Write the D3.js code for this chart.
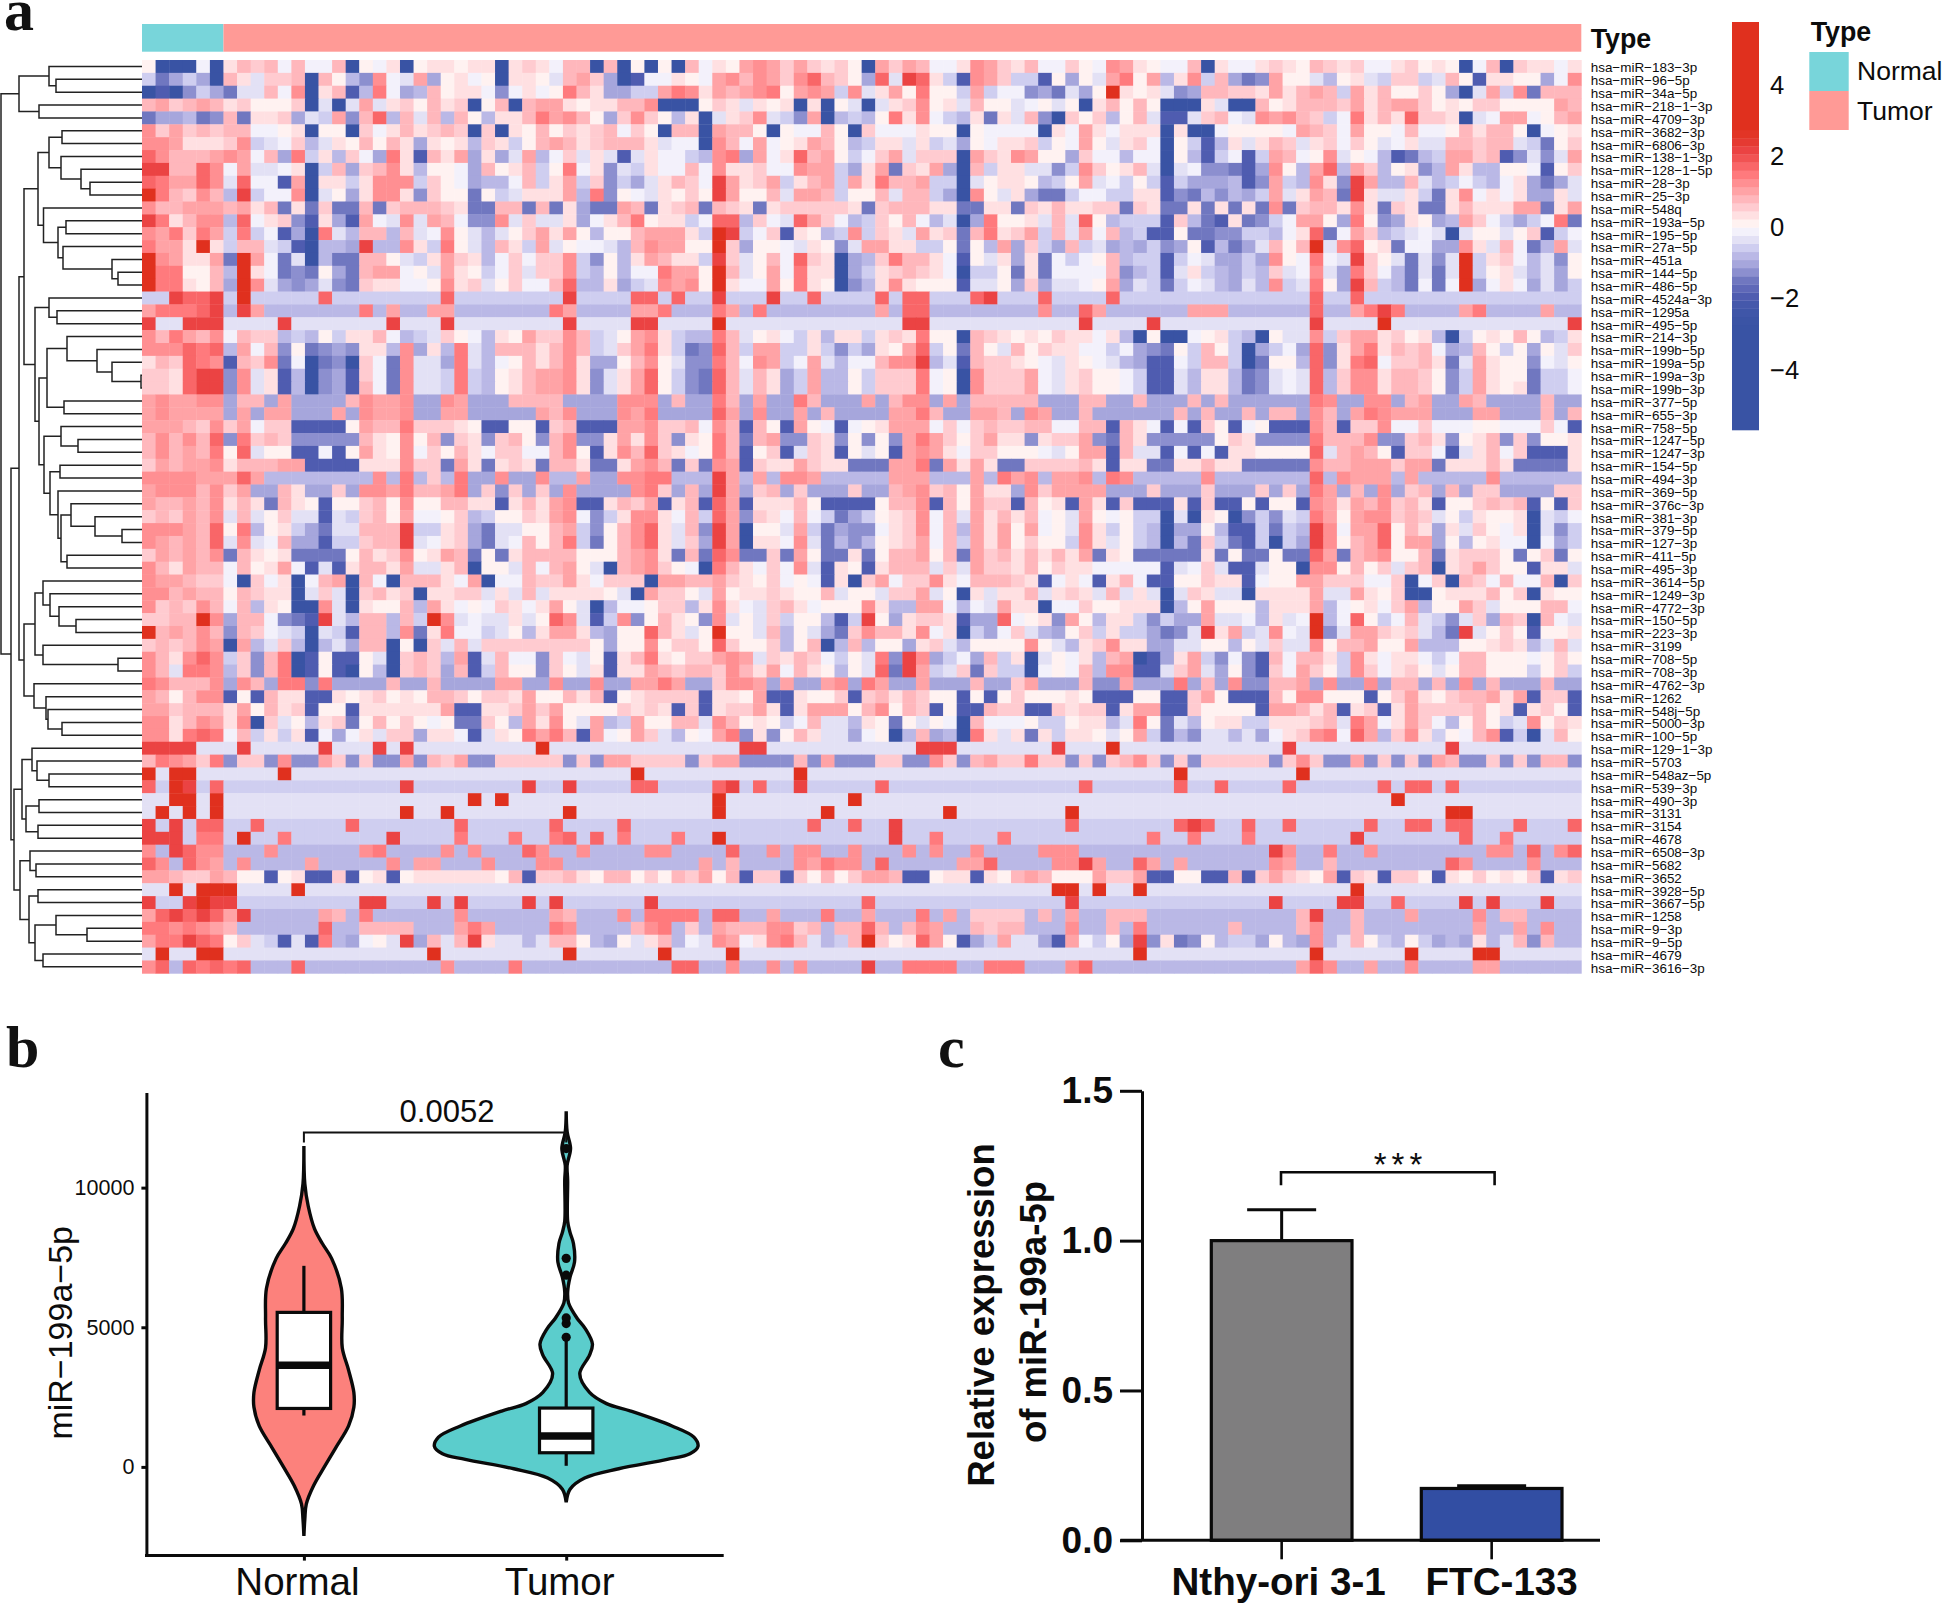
<!DOCTYPE html>
<html>
<head>
<meta charset="utf-8">
<script src="https://cdn.jsdelivr.net/npm/d3@7"></script>
<style>
  body { margin: 0; background: #fff; }
  text { font-family: "Liberation Sans", Arial, sans-serif; fill: #0c0c0c; }
  .letter { font-family: "Liberation Serif", serif; font-weight: bold; font-size: 60px; fill: #111; }
</style>
</head>
<body>
<script>
var width = 1952;
var height = 1604;

var rowNames = ['183-3p','96-5p','34a-5p','218-1-3p','4709-3p','3682-3p','6806-3p','138-1-3p','128-1-5p','28-3p','25-3p','548q','193a-5p','195-5p','27a-5p','451a','144-5p','486-5p','4524a-3p','1295a','495-5p','214-3p','199b-5p','199a-5p','199a-3p','199b-3p','377-5p','655-3p','758-5p','1247-5p','1247-3p','154-5p','494-3p','369-5p','376c-3p','381-3p','379-5p','127-3p','411-5p','495-3p','3614-5p','1249-3p','4772-3p','150-5p','223-3p','3199','708-5p','708-3p','4762-3p','1262','548j-5p','5000-3p','100-5p','129-1-3p','5703','548az-5p','539-3p','490-3p','3131','3154','4678','6508-3p','5682','3652','3928-5p','3667-5p','1258','9-3p','9-5p','4679','3616-3p'];

// heatmap, one letter per cell, a = deepest blue ... s = deepest red
var levelLetters = 'abcdefghijklmnopqrs';
var levelValues = [-3.6, -1.94, -1.48, -1.25, -1.03, -0.8, -0.57, -0.34, -0.11, 0.11, 0.34, 0.57, 0.8, 1.03, 1.25, 1.48, 1.71, 2.17, 3.6];
var stripWidths = [22, 21, 22, 20, 21];

var stripA = ['jaaaiakmlmimiimajikajk','gcegeamkhllmamjfdoihne','abadgechhmioakmbfpiefm','mnlmnmkljjjlahahnhkljm','ceefcdmckklehgndmqfmhm','olnlmlmmiijkajjalikmkl','oonkkkloghilfhkjmjmkek','qommmnonimepgkfliepkbm','rrmmqoinhhikagmelmokfj','qpnnqohqiibnakkgkooogl','spmlomfrgiioahjekookdl','ommnnnmnkmckclccmclmmm','rpkmoofqikldbkebnihohn','onplpngpgibeaphfmmfmhi','pnnkskgmmhgbafferffokg','sonkkncsnichafccmmjhgk','sppjjmfskicdcjecmnnijh','sppkjmesohedehdclkkiij','ggrqqrgsgggggqgggggggg','npppqrfrnfffffffpfnffn','rhhrrrhhhhrhhhhhhhrhhh','ompnmoimllfgfjgkkmifgh','oooqpqfnimdjcdedkkfoek','kmlqpobmlociacdalicohh','llkqrrdohkbfadeblicohh','llkqrrdohkbfadebmicohh','nonnooemmeneeeemonnoee','nonnnnenenneeeneonnoee','nnnmlolnillbbbbjnmmpll','momomqdplmldddddmkjojm','momnmpjqhjjbbibjnkjoil','lnmnnokmmmnnbbbbkkkoll','oooonnnqnffffffffofpfl','nooomolneemkeeleoonpmm','nmmnmokmkcmkjbjjlmjojj','lmlnmohmhjlhhbhglmjnii','ooonmqjpfjkgechhmmmrgg','onmnmqhohimeebgglmmrhi','lnmnmocmkjkccccjmklojk','omknmmimjknibhbkmmknhh','onnmllialikaimnamiammm','oomnmmjmlkkahlhalmklak','olmlomimfkjaaohakjjmfn','llmmsoemmidcbrhfmmfmgs','smnmomdmlihgahgbmmfock','lmlmonanfhlfafhemmajal','omkoqogldmpabjbbjhalml','omhppofldmpabjbajfalml','pommmoeomeppdpeeeemeem','nmjmoobjbmkkbbkjkljkjm','nnlmmmknjmklbjjbkkkkkk','ookmonkoalhjfklcjmjlji','ookpqpimgkgkbieikhllek','rrrrhhhrhhhhhrhhhrhrhh','mponlpdlldoddnldlddndm','shsshhhhhhshhhhhhhhhhh','qgsrgqgggggggggggggrgg','hhsshshhhhhhhhhhhhhhhh','hshshshhhhhhhhhhhhhshh','rgrgqqggqggggggqgggggg','rrrgppgsggpgggggggrggg','ofrqoofffoffffffopffff','qofqonfoffffnfffffofnn','nnmllnmjjbjkbblbjkbjkk','hhshssshhhhshhhhhhhhhh','rggrsrrgggggggggrrgggr','nqrqrqnrfffffnmfpfffff','ppoponmffffffqffmmmmff','npprqpjlhgbhbpfeijhrem','hshhsshhhhhhhhhhhhhhhs','oqfqpqpqfffqffffffffff'];

var stripB = ['kjkkaklkimmamajajamik','jkijakkjhmnleabiikjin','jkkidikijpmkeeggnpokn','klajmamnnkjkkmmoaaajl','fmjfkkmpnomjeloljfkah','mlalakjmjlklmiljamman','jkflkgjmnmklmmmkhiiao','knekehnfilhkhbhkiigfo','jiemjkmgjpikdhgkiimio','jieffimgkngldgehkmlir','jjcjghkkknfpdjihkjljr','lkccmmcmckeccnmcklmcm','middohlhhkeikmpjkkgiq','ojhfhjlnknjfjjmnnnkgs','pjhfmkgnhjiihfmonnjjs','nlkfilillogdjfknmkkgr','nkjgilhllogfjfiipnnjs','oklhjliimqffkeghonojs','qggggggggrggggqqgqggr','nfffffffpnffffnnpfffp','rhhhhhhhhrhhhhrrhhhhs','ljifkjnllomghjnokgffp','fphfmmmkmomghlnpkgcdq','ephfijmkmokeejmojhddp','gpgfjkmnnokdhknqjgdcq','gpgfjkmnnokdhknqjgdcq','oneeemmmmeeeeoooemeep','nneeeeenmoeeeonpeeeeq','lkjbbjjblmbbbnnollmio','dlkdlmjdmoddknkoldkjp','jmkilliimojbkomqlkijp','cnkcklkcmmkccknomclco','fpeeoeeoffneeooppfffr','npeldleleoeeeeoplemer','mmkkbkmknobbkmlnbkmbq','jlfgjjlknoidgkookimgq','klechhjjmngdjmoqkhmdr','klechimjmpgcjmoqkhler','nmcjckmmmmjjjmnokcmcq','kmajjhmimnjhamnoljiap','kinaiimllnkilllannmmn','kllhkhmhkkkkjhanlljhn','kijilkiknjhafiijllfko','ohihhkhjqohbgodjmkjdo','piighjfknnkfejjqmkhjs','hmhlllllllljejjojlljq','fnbhmiidlihjbkmpkjlln','embgmjjdljhkbkknmlmml','eeeenneeoeeoeennpneel','mljllknjjmkmbjkllllbk','nbbkklnlnjjjjlklkblbk','jccljfnkojhnfgnjjmmho','kibhkjpnpmbnijnlhfjin','hhhhhhhshhhhhhhhhhhhh','lnddllllldldnnlllldln','hhhhhhhhhhhhhhshhhhhh','ggggggrggrggggqqggggq','hhshshhhhhhhhhhhhhhhs','shhhhhhhhshhhhhhhhhhs','gqggggggqggggqggggggg','gpgggpggpqgqgpgggpggs','ofofffqoffoffffooffff','fffofffooffffffffffnf','kkkkjmbllmkjmmjljmlnj','hhhhhhhhhhhhhhhhhhhhh','grggggrgrggggggrggggg','foffffffnmfffofppppfq','fnpnffffpoffffmopflfn','hmrkhhfhmmjfejhkmfiho','hhhhhhhhhshhhhhhshhhh','offffpfffffffffffqqff'];

var stripC = ['jnonlnlkljanlnmiikonlk','omonloqmljeqhrqkgbonlg','mnopjnongohknjpjjgngii','khkjkakajhahklojkhmjjh','klohgdnafgfjpkoigfkckh','mmjajiimjaliiikjjajiii','minijknmjfgkkhkghejikk','penikqmnjgilnhlllanlko','kkliionngeknclkneamgkk','nklngkmngnkpmmnggahjkk','njjmhnnmgjjmhmmgeaojhk','lkcklllllkclmmmkkcckkc','qflihqnlifgljmifhaepjj','rgilbkjfgoglkhnklcmpkl','lejjihkjdhnnkkggjcjfne','lhjmiqlkaeflpmmkibjhke','mhjnipkkaegklmlkiaggjc','kiinjpkjadfkokjjjbhhje','gggrggqggggqgqqgggqrgg','nfpffffffffnfqqfffffff','hhhhhhhhhhhhhrrhhhhhhh','mhjkigkfkkgklkpjjamlkj','mgnnggkgdgekjnqgjcmjhm','mionginhfiimoorfhbmllk','mhmkegnffjglllpijaolll','mhmkegnffjglllpijaolll','meneepmeeenemooenemmmm','neoeenemeeeennpmeennme','mbmjbnjibijknnnililmll','mcmnddlkdjdjdnpnljlnkk','mbjlbhlkbjhjbnonkilljj','nblkknlkkcccnnpcnknkcc','nfnfoonfffffnnnfffnfpn','nelmeleeeleemnolmjnkke','nbkkkmjbbbbjmmobmjnllb','ndlkimigcegjkloimhnkmk','najjhngceddikloimfnknj','nakkiohcfdfjklnimgnknj','occlcnjcckcjmmnjmcnlmk','mkiliohbkjbkmmmhlhnllk','lkjlijibkalnillokimmml','jkklkjjmhjjhllnhjakhkk','kihlmkijjjokffnnifihnk','hjhlgjjfbgrjekllkbeeqi','jjhmfjheclommkoikageil','ljjlfjmafmfjjeklhfjjjj','onhlkmligjhpdroegiemgk','omknimkjfjhqcrnghlclgg','ooneneenoepneeneeemeel','kjnbbkjjlblmkmljjbjbjl','llnkbknnnjmojmlbjbbmll','mjkjgimhhfkjcjhjiamiii','pdkdjmkhheijafmefapkhk','hrrhhhhhhhhhhhrrrhhhhh','nddddmdndddllddoldmnll','hhhhhshhhhhhhhhhhhhhhh','rgqggrgggggqgggggggggg','hhhhhhhhhshhhhhhhhhhhh','hhhhhhhshhhhhhhhshhhhh','ggggggqggqggrggggggggg','ggggggggggggrggpggggpg','qffofooffofffofoffofff','mffffonpoofqfffffnnqff','mbllbljmjlnnmbbjkkbkjm','hhhhhhhhhhhhhhhhhhhhhh','ggggggggggqggggggggggg','qffnfffpffnfffpfnfllll','mmmoolmfmmqmfmonffmlmm','nikopmhfgmsljkqnjbegnh','shhhhhhhhhhhhhhhhhhhhh','offofoffffrffppppffppp'];

var stripD = ['miiljionkjiimakiiklk','gbjejhnpjnfkogmecdnj','dechejskjkhdemmllknk','ijhjakmjmjaaakhaamjk','mdaljlfjmhbbhlmihono','iakinkikkkakaaijjjji','lgjinjhkliajgbfkhkml','njjeliifiiajfbgibgnm','hhdgoljkmhahiddcbeoj','jfgjnhigjgbgeeefbdng','eccgiiggkkbdcfdfegnh','lkmkkllclkcckckckcoc','khmhqjfgggblfcbkcdgi','ngmhnimfgbbjccddggfi','lgemghefegdejbfcehmj','kcigijmfggbgiheegeoj','kciiiimdfgbhkgfegflh','lehhijnehgcgihfehfog','gqggggqggggggggggggg','foffqnffffffnnnfffff','hhhhrhhhhrhhhhhhhhhh','kjlkkikfajaaijkgfajh','jlkkiigiedcjgmjgaegi','jihkjihfebbigmmgacjj','nihkljjigbbhfkkfcdhi','nihkljjigbbhfkkfcdhi','meeemmeemeeememeeeee','oneemeeeeeememeememm','mmiimmbmkibibljbijbb','dkllndcmkdddddjlkddd','jihjnnbmhhbibibkkjjj','llllmkbkkcckkmkkcccc','ofnnofpofffffoffffff','olnnnneeeleeeleeelel','mjkbnkblbbbkblbbjbjj','mijhnjijggahakjadgdh','nijhokgjgfaeejfbbgcg','ljjgokhjgfafclgcbgag','mkmknckjccccckcjccjc','mjlkkiiiiibhilhbbhjj','kbikibkmibbjjlkkbijj','mhklkhmhkhahlkhhakkk','kaiiljjkkkafjnjjjfkk','jkdnjfkkgdgeenhhifkh','hfejlgkggecdhrknghoi','ojhfklokkeehhjjfjhlh','ahjikfmnabekngdidbmi','aijimfoobbhlnhejdbli','neeemddneeepemeoddmm','jjjkjbbbjjbblnjbbbmj','bblkllbknnbbljjjjbnn','jggjkkfhpjchfjkkggkk','ckgkkjhjngcfdhhfheik','hhrhhhshhhhhhhhhhhhr','plldldlmoldldllllldl','hhhhhhhhhhhshhhhhhhh','ggggqggggggqggqggggq','hhhhhhhhhhhhhhhhhhhh','hhhshhhhhhhhhhhhhhhh','gggqgggggggqrqggqggq','gggggggggpggpgggpggg','foooffffffffffffffro','ffoornffqnfnffffffon','nmjjjnllnbbjjbbmblnl','hhsshshhshhhhhhhhhhh','gggrggggggggggggggrg','fmfnffmmmfffffffffff','fffoffmfpffffffmffff','hebnigjerdkcdjfggejf','hhhhhhhhshhhhhhhhhhh','fffoqfffffffffffffff'];

var stripE = ['jmlkliikljkjaimalkkik','jhfjkhgllghmjbkkjjeio','mnmgnkmjjljeahngocmmm','mmmlnkmnnljkjlljjjjnm','mlgipkmkqllkahinnijmn','nmlinjjimiijmkmmjaijk','hkliljhikhhmmlmmhgcjl','ijohjifbcfgnnlmbdhdhn','fnqfnlfjkdfnkffjjibjl','fokdrnffmhfgigfikeceh','knmcrkhhkgckoikikeekh','lmmkokclkcckmkkknnckn','nnjepjdekjefnligegipc','kqcinlfghihahjjhjlbgi','mshoqjkciieeokhmicfnh','ipihrljhchdhsgklifhdj','ioheplifchchsgjkhfhej','hpjermgfciciseikieheg','gqggqgggggggggggggggg','fqffnprpffffnpffffnff','hrhhhhshhhhhhhhhhhhhr','hoglnnkljkfagjkjmjfgk','eqdknpkmlmiefmjgjejhl','fqdkpqillmkchnkjjdihj','hqflookmmljdgnkjjcggi','hqflookmmljdgnkjkcggi','epoeeooemneenmeeeemee','eomenponnneeenneeemem','bomblloiiliiijjiiilib','dpmmmoddlmkdjkmdldjjk','jqhmnmjbllibhkmilbbbk','commnnnlnnckkkmkcccck','fqfonnnfnfffffoffffff','epnemeoelmemelleeeell','bonknmolmkbjjlmlmbjbl','gpnjnoolmlhjgkjjkahgi','froinnqjmkekhljikahdg','erojmnqjnnejfjkiiaieg','cqncmnojjmckllljcjlcj','aoojmjlhlmaklnljjbkkh','nnllliilailamlimiimal','knhhnkjlaajkkkmjlakjj','knfijkilnfjjnlhjjjmmi','isfiqjgimhgdhlemlamih','hsdhnnlklhfcrhjljbjjk','hojmmnjjnfffjjklkfhmh','mmkgokikkigimmjjjijlj','nljgolikljhjmmjjjgjlg','neoeeoemmemeoemeeemee','oojjjbjlnkjlmmnknbllb','mkmbklbknllllmjkbkljb','klmhpniknlifjmjghojlk','lopiqnflokgjimobgahmj','hhhhhhhhhhhrhhhhhhhhh','olddndldldnmddldldmmd','shhhhhhhhhhhhhhhhhhhh','ggggggqgqqgqggggggggg','hhhhhhhshhhhhhhhhhhhh','hhhhhhhhhhhsshhhhhhhh','gggggqggqqgqqgggqgggq','ggggrgggggggqggpggggg','ffpffoffffffffoofqfoq','ffmffffffffqoffffofff','kjnblkblljbkjljkjlbkl','hhhhshhhhhhhhhhhhhhhh','gggrrggqggggrgrgggrgg','mrffmfffnffffofmmffff','moffmffffffffnffnfoff','eofhmjgfjgefekfhmdmff','hshhhhhhshhhhsshhhhhh','nqoffnffoffffnnffffff'];

// legend colours from the bar: thirteen blue steps then thirteen red steps
var blueSteps = ['#3953A4','#3B54A5','#3F56A8','#4558AB','#4F5CB0','#5F68B8','#7077C0','#8C8FCF','#A6A6DC','#BAB8E6','#CFCEF0','#E3E1F5','#F3F1FB'];
var redSteps = ['#FFF2F1','#FFE0E2','#FFCBD0','#FFB7BC','#FFA3A6','#FF8F92','#FF7A7D','#F96668','#F15353','#EB4343','#E53A32','#E23526','#E0301E'];
var heatTicks = [-4, -2, 0, 2, 4];

var sampleTypes = ['Normal', 'Tumor'];
var sampleCounts = [6, 100];

// [height, left, right], numbers are row indexes
var dendroTree = [141,
  [123, [93, 0, [86, 1, 2]], [103, 3, 4]],
  [131,
    [123,
      [118,
        [104,
          [93, [80, 5, 6], [81, 7, [61, 8, [52, 9, 10]]]],
          [98.5, 11, [84, [76, 12, 13], [79, 14, [30, 15, [24, 16, 17]]]]]],
        [107,
          [93, 18, [85, 19, 20]],
          [103,
            [95, [75, 21, [45, 22, [30, 23, [1, 24, 25]]]], [78, 26, 27]],
            [98,
              [81, 28, [64, 29, 30]],
              [92, [82, 31, 32], [84, 33, [81, [71, 34, [47, 35, [20, 36, 37]]], [75, 38, 39]]]]]]]],
      [118,
        [107,
          [99, 40, [92, 41, [83, 42, [66, 43, 44]]]],
          [99, 45, [24, 46, 47]]],
        [108, 48, [96, 49, [94, 50, [80, 51, 52]]]]]],
    [128,
      [120,
        [110, 53, [105, 54, [93, 55, 56]]],
        [116, [103, 57, 58], [104, 59, 60]]],
      [122,
        [112, 61, [106, 62, 63]],
        [113,
          [104, 64, 65],
          [107, [86, 66, [55, 67, 68]], [99, 69, 70]]]]]]];

// panel b
var violinTypes = ['Normal', 'Tumor'];
var normalValues = [11493, 10133, 9333, 8533, 8000, 7467, 6400, 5333, 4267, 3467, 2667, 2133, 1467, 667, 0, -667, -1333, -1867, -2467];
var normalDensity = [0, 0.007, 0.033, 0.08, 0.14, 0.21, 0.284, 0.291, 0.291, 0.339, 0.379, 0.379, 0.339, 0.239, 0.155, 0.074, 0.018, 0.007, 0];
var tumorValues = [12733, 12000, 11400, 10800, 10267, 8800, 8400, 8000, 7333, 6800, 6267, 5867, 5333, 4933, 4400, 4000, 3333, 2667, 2267, 2000, 1467, 1067, 733, 467, 267, -67, -400, -800, -1267];
var tumorDensity = [0, 0.007, 0.033, 0.007, 0.011, 0.011, 0.029, 0.055, 0.063, 0.029, 0.011, 0.018, 0.081, 0.147, 0.199, 0.177, 0.103, 0.177, 0.306, 0.49, 0.803, 0.969, 1, 0.939, 0.766, 0.398, 0.14, 0.029, 0];
var boxLow = [1840, 40];
var boxQ1 = [2093, 507];
var boxMedian = [3640, 1107];
var boxQ3 = [5533, 2107];
var boxHigh = [7200, 4533];
var tumorOutliers = [4640, 5133, 5333, 6867, 7467, 11400];
var violinTicks = [0, 5000, 10000];

// panel c
var cellLines = ['Nthy-ori 3-1', 'FTC-133'];
var cellMeans = [1.0, 0.173];
var cellErrors = [0.103, 0.009];
var cellTicks = [0, 0.5, 1.0, 1.5];

var svg = d3.select('body').append('svg')
  .attr('width', width)
  .attr('height', height);

svg.append('text').attr('class', 'letter').attr('x', 4).attr('y', 30).text('a');
svg.append('text').attr('class', 'letter').attr('x', 6).attr('y', 1067).text('b');
svg.append('text').attr('class', 'letter').attr('x', 938).attr('y', 1067).text('c');

function drawHeatmap() {
  var nCols = d3.sum(stripWidths);
  var x = d3.scaleBand().domain(d3.range(nCols)).range([142, 1581.3]);
  var y = d3.scaleBand().domain(d3.range(rowNames.length)).range([60, 973.3]);

  var thresholds = d3.range(-12, 13).map(function (i) { return i * 0.228; });
  var color = d3.scaleThreshold().domain(thresholds).range(blueSteps.concat(redSteps));

  function fitStrip(str, w) {
    return str.padEnd(w, str[str.length - 1]).slice(0, w);
  }

  var cells = [];
  rowNames.forEach(function (name, r) {
    var line = fitStrip(stripA[r], stripWidths[0]) + fitStrip(stripB[r], stripWidths[1]) +
      fitStrip(stripC[r], stripWidths[2]) + fitStrip(stripD[r], stripWidths[3]) + fitStrip(stripE[r], stripWidths[4]);
    line.split('').forEach(function (ch, c) {
      cells.push({ r: r, c: c, v: levelValues[levelLetters.indexOf(ch)] });
    });
  });

  svg.append('g').selectAll('rect').data(cells).join('rect')
    .attr('x', function (d) { return x(d.c); })
    .attr('y', function (d) { return y(d.r); })
    .attr('width', x.bandwidth() + 0.4)
    .attr('height', y.bandwidth() + 0.4)
    .attr('fill', function (d) { return color(d.v); });

  // annotation bar
  var typeColor = d3.scaleOrdinal().domain(sampleTypes).range(['#78D5DA', '#FF9A96']);
  svg.append('rect').attr('x', x(0)).attr('y', 24).attr('width', x(sampleCounts[0]) - x(0)).attr('height', 27.7).attr('fill', typeColor('Normal'));
  svg.append('rect').attr('x', x(sampleCounts[0])).attr('y', 24).attr('width', 1581.3 - x(sampleCounts[0])).attr('height', 27.7).attr('fill', typeColor('Tumor'));
  svg.append('text').attr('x', 1590.7).attr('y', 48).attr('font-size', 26.8).attr('font-weight', 'bold').text('Type');

  // row labels
  svg.append('g').selectAll('text').data(rowNames).join('text')
    .attr('x', 1590.7)
    .attr('y', function (d, i) { return y(i) + y.bandwidth() / 2; })
    .attr('dy', '0.44em')
    .attr('font-size', 13.45)
    .text(function (d) { return 'hsa\u2212miR\u2212' + d.replace(/-/g, '\u2212'); });

  // dendrogram
  var root = d3.hierarchy(dendroTree, function (d) { return Array.isArray(d) ? d.slice(1) : null; });
  var hx = d3.scaleLinear().domain([0, 141]).range([142, 1]);
  var p = d3.path();
  root.eachAfter(function (n) {
    if (!n.children) {
      n.py = y(n.data) + y.bandwidth() / 2;
      n.px = hx(0);
    } else {
      n.px = hx(n.data[0]);
      n.py = (n.children[0].py + n.children[1].py) / 2;
      p.moveTo(n.children[0].px, n.children[0].py);
      p.lineTo(n.px, n.children[0].py);
      p.lineTo(n.px, n.children[1].py);
      p.lineTo(n.children[1].px, n.children[1].py);
    }
  });
  svg.append('path').attr('d', p.toString()).attr('fill', 'none').attr('stroke', '#222').attr('stroke-width', 1.5);

  // colour legend
  var ly = d3.scaleLinear().domain([5.77, -5.69]).range([22, 430]);
  var bands = color.range().map(function (c) {
    var e = color.invertExtent(c);
    var top = e[1] === undefined ? 5.77 : e[1];
    var bottom = e[0] === undefined ? -5.69 : e[0];
    return { c: c, top: top, bottom: bottom };
  });
  svg.append('g').selectAll('rect').data(bands).join('rect')
    .attr('x', 1732).attr('width', 27)
    .attr('y', function (d) { return ly(d.top); })
    .attr('height', function (d) { return ly(d.bottom) - ly(d.top) + 0.3; })
    .attr('fill', function (d) { return d.c; });

  var lAxis = svg.append('g').attr('transform', 'translate(1759,0)')
    .call(d3.axisRight(ly).tickValues(heatTicks).tickSize(0).tickPadding(11));
  lAxis.select('.domain').remove();
  lAxis.selectAll('text').attr('font-size', 25.6).style('font-family', '"Liberation Sans"').attr('fill', '#0c0c0c');

  // type legend
  svg.append('text').attr('x', 1810.7).attr('y', 41).attr('font-size', 26.8).attr('font-weight', 'bold').text('Type');
  sampleTypes.forEach(function (t, i) {
    svg.append('rect').attr('x', 1809.3).attr('y', 52 + i * 39).attr('width', 39.4).attr('height', 39).attr('fill', typeColor(t));
    svg.append('text').attr('x', 1857).attr('y', 80 + i * 40).attr('font-size', 26.5).text(t);
  });
}

function drawViolins() {
  var y = d3.scaleLinear().domain([-3176, 13403]).range([1555.6, 1092.6]);
  var x = d3.scalePoint().domain(violinTypes).range([303.9, 566.2]);
  var w = d3.scaleLinear().domain([0, 1]).range([0, 131.8]);
  var fills = ['#FC817C', '#5BCDCC'];
  var values = [normalValues, tumorValues];
  var densities = [normalDensity, tumorDensity];

  var area = d3.area().curve(d3.curveCatmullRom);

  violinTypes.forEach(function (t, i) {
    var cx = x(t);
    area.y(function (d) { return y(d[0]); })
      .x0(function (d) { return cx - w(d[1]); })
      .x1(function (d) { return cx + w(d[1]); });
    svg.append('path')
      .attr('d', area(d3.zip(values[i], densities[i])))
      .attr('fill', fills[i]).attr('stroke', '#0a0a0a').attr('stroke-width', 3.4);

    svg.append('line').attr('x1', cx).attr('x2', cx).attr('y1', y(boxHigh[i])).attr('y2', y(boxLow[i]))
      .attr('stroke', '#0a0a0a').attr('stroke-width', 3.2);
    svg.append('rect').attr('x', cx - 26.7).attr('width', 53.4)
      .attr('y', y(boxQ3[i])).attr('height', y(boxQ1[i]) - y(boxQ3[i]))
      .attr('fill', '#fff').attr('stroke', '#0a0a0a').attr('stroke-width', 3.2);
    svg.append('line').attr('x1', cx - 26.7).attr('x2', cx + 26.7).attr('y1', y(boxMedian[i])).attr('y2', y(boxMedian[i]))
      .attr('stroke', '#0a0a0a').attr('stroke-width', 7.5);
  });

  svg.append('g').selectAll('circle').data(tumorOutliers).join('circle')
    .attr('cx', x('Tumor')).attr('cy', function (d) { return y(d); }).attr('r', 4.6).attr('fill', '#0a0a0a');

  var yAxis = svg.append('g').attr('transform', 'translate(146.4,0)')
    .call(d3.axisLeft(y).tickValues(violinTicks).tickFormat(d3.format('d')).tickSize(5).tickPadding(7).tickSizeOuter(0));
  yAxis.selectAll('line,path').attr('stroke', '#0a0a0a').attr('stroke-width', 3);
  yAxis.selectAll('text').attr('font-size', 21.5).style('font-family', '"Liberation Sans"').attr('fill', '#0c0c0c');

  svg.append('line').attr('x1', 145).attr('x2', 723.7).attr('y1', 1555.6).attr('y2', 1555.6).attr('stroke', '#0a0a0a').attr('stroke-width', 3);
  var xAxis = svg.append('g').attr('transform', 'translate(0,1555.6)')
    .call(d3.axisBottom(x).tickSize(5).tickPadding(7));
  xAxis.select('.domain').remove();
  xAxis.selectAll('line').attr('stroke', '#0a0a0a').attr('stroke-width', 3);
  xAxis.selectAll('text').attr('font-size', 38.5).attr('dx', -7).style('font-family', '"Liberation Sans"').attr('fill', '#0c0c0c');

  svg.append('text').attr('transform', 'translate(72,1332.8) rotate(-90)').attr('text-anchor', 'middle')
    .attr('font-size', 34).text('miR\u2212199a\u22125p');

  // bracket
  var by = y(11973);
  svg.append('path').attr('fill', 'none').attr('stroke', '#111').attr('stroke-width', 2)
    .attr('d', 'M' + x('Normal') + ',' + (by + 10) + 'V' + by + 'H' + x('Tumor') + 'V' + (by + 10));
  svg.append('text').attr('x', 447).attr('y', 1122).attr('text-anchor', 'middle').attr('font-size', 31).text('0.0052');
}

function drawBars() {
  var y = d3.scaleLinear().domain([0, 1.5]).range([1540.3, 1090.8]);
  var x = d3.scaleBand().domain(cellLines).range([1211.3, 1562]).paddingInner(0.33);
  var fills = ['#7F7E7F', '#324EA3'];
  var labelShift = [-3, 10];

  cellLines.forEach(function (c, i) {
    var cx = x(c) + x.bandwidth() / 2;
    svg.append('path').attr('fill', 'none').attr('stroke', '#0a0a0a').attr('stroke-width', 3)
      .attr('d', 'M' + cx + ',' + y(cellMeans[i]) + 'V' + y(cellMeans[i] + cellErrors[i]) + 'm-34.5,0h69');
    svg.append('rect').attr('x', x(c)).attr('width', x.bandwidth())
      .attr('y', y(cellMeans[i])).attr('height', y(0) - y(cellMeans[i]))
      .attr('fill', fills[i]).attr('stroke', '#0a0a0a').attr('stroke-width', 3.2);
    svg.append('line').attr('x1', cx).attr('x2', cx).attr('y1', y(0)).attr('y2', 1559.3).attr('stroke', '#0a0a0a').attr('stroke-width', 2.6);
    svg.append('text').attr('x', cx + labelShift[i]).attr('y', 1595.4).attr('text-anchor', 'middle')
      .attr('font-size', 38.6).attr('font-weight', 'bold').text(c);
  });

  var yAxis = svg.append('g').attr('transform', 'translate(1142,0)')
    .call(d3.axisLeft(y).tickValues(cellTicks).tickFormat(d3.format('.1f')).tickSize(22).tickPadding(7).tickSizeOuter(0));
  yAxis.selectAll('line,path').attr('stroke', '#0a0a0a').attr('stroke-width', 3);
  yAxis.selectAll('text').attr('font-size', 37).attr('font-weight', 'bold').style('font-family', '"Liberation Sans"').attr('fill', '#0c0c0c');

  svg.append('line').attr('x1', 1120.4).attr('x2', 1600).attr('y1', y(0)).attr('y2', y(0)).attr('stroke', '#0a0a0a').attr('stroke-width', 3);

  svg.append('text').attr('transform', 'translate(994,1315) rotate(-90)').attr('text-anchor', 'middle')
    .attr('font-size', 36.6).attr('font-weight', 'bold').text('Relative expression');
  svg.append('text').attr('transform', 'translate(1046,1312) rotate(-90)').attr('text-anchor', 'middle')
    .attr('font-size', 36.6).attr('font-weight', 'bold').text('of miR-199a-5p');

  // bracket
  var by = y(1.228);
  svg.append('path').attr('fill', 'none').attr('stroke', '#0a0a0a').attr('stroke-width', 2.6)
    .attr('d', 'M1281,' + (by + 13) + 'V' + by + 'H1494.6V' + (by + 13));
  svg.append('text').attr('x', 1400.5).attr('y', 1176).attr('text-anchor', 'middle')
    .attr('font-size', 33).attr('letter-spacing', 5).text('***');
}

drawHeatmap();
drawViolins();
drawBars();
</script>
</body>
</html>
